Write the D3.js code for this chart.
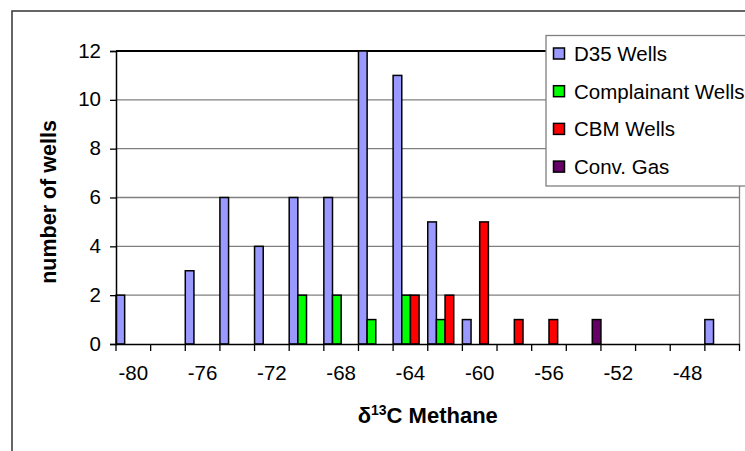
<!DOCTYPE html>
<html>
<head>
<meta charset="utf-8">
<script src="https://cdn.jsdelivr.net/npm/d3@7"></script>
<style>
    body { margin: 0; background: #fff; }
    svg { display: block; font-family: "Liberation Sans", Arial, sans-serif; }
</style>
</head>
<body>
<svg></svg>
<script>
let categories = [-80, -78, -76, -74, -72, -70, -68, -66, -64, -62, -60, -58, -56, -54, -52, -50, -48, -46]
let d35Wells = [2, 0, 3, 6, 4, 6, 6, 12, 11, 5, 1, 0, 0, 0, 0, 0, 0, 1]
let complainantWells = [0, 0, 0, 0, 0, 2, 2, 1, 2, 1, 0, 0, 0, 0, 0, 0, 0, 0]
let cbmWells = [0, 0, 0, 0, 0, 0, 0, 0, 2, 2, 5, 1, 1, 0, 0, 0, 0, 0]
let convGas = [0, 0, 0, 0, 0, 0, 0, 0, 0, 0, 0, 0, 0, 1, 0, 0, 0, 0]
let seriesNames = ['D35 Wells', 'Complainant Wells', 'CBM Wells', 'Conv. Gas']
let seriesColors = ['#9999FF', '#00FF00', '#FF0000', '#660066']
let yTicks = [0, 2, 4, 6, 8, 10, 12]
let xTickLabels = [-80, -76, -72, -68, -64, -60, -56, -52, -48]

let width = 745
let height = 451
let plotLeft = 116
let plotRight = 739.5
let plotTop = 51
let plotBottom = 344

let svg = d3.select('svg')
    .attr('width', width)
    .attr('height', height)

let allSeries = [d35Wells, complainantWells, cbmWells, convGas]

let xScale = d3.scaleBand()
    .domain(categories)
    .range([plotLeft, plotRight])
    .padding(0)

let x1Scale = d3.scaleBand()
    .domain(d3.range(seriesNames.length))
    .range([0, xScale.bandwidth()])
    .padding(0)

let yScale = d3.scaleLinear()
    .domain([0, 12])
    .range([plotBottom, plotTop])

// chart border (top-left corner visible only)
svg.append('path')
    .attr('d', 'M12,' + (height + 5) + ' L12,11 L' + (width + 5) + ',11')
    .attr('fill', 'none')
    .attr('stroke', '#333')
    .attr('stroke-width', 1.5)

// gridlines
svg.append('g')
    .selectAll('line')
    .data(yTicks.filter((d) => d > 0))
    .enter()
    .append('line')
    .attr('x1', plotLeft)
    .attr('x2', plotRight)
    .attr('y1', (d) => yScale(d))
    .attr('y2', (d) => yScale(d))
    .attr('stroke', (d) => d == 12 ? '#000' : '#808080')
    .attr('stroke-width', (d) => d == 12 ? 2 : 1.3)

// plot right border
svg.append('line')
    .attr('x1', plotRight).attr('x2', plotRight)
    .attr('y1', plotTop).attr('y2', plotBottom)
    .attr('stroke', '#808080')
    .attr('stroke-width', 1.3)

// bars
let barData = []
allSeries.forEach((values, s) => {
    values.forEach((v, i) => {
        if (v > 0) barData.push({cat: categories[i], s: s, v: v})
    })
})

svg.append('g')
    .selectAll('rect')
    .data(barData)
    .enter()
    .append('rect')
    .attr('x', (d) => xScale(d.cat) + x1Scale(d.s))
    .attr('y', (d) => yScale(d.v))
    .attr('width', x1Scale.bandwidth())
    .attr('height', (d) => yScale(0) - yScale(d.v))
    .attr('fill', (d) => seriesColors[d.s])
    .attr('stroke', '#000')
    .attr('stroke-width', 1.5)

// axes
let yAxis = d3.axisLeft(yScale)
    .tickValues(yTicks)
    .tickSize(6)
    .tickPadding(9)

let yg = svg.append('g')
    .attr('transform', 'translate(' + plotLeft + ',0)')
    .call(yAxis)
yg.select('.domain').attr('stroke', '#000').attr('stroke-width', 1.5)
yg.selectAll('.tick line').attr('stroke', '#000').attr('stroke-width', 1.3)
yg.selectAll('text')
    .attr('font-size', 20.5)
    .attr('font-family', '"Liberation Sans", Arial, sans-serif')
    .attr('fill', '#000')
    .attr('dy', '0.3em')

let xAxis = d3.axisBottom(xScale)
    .tickSize(0)
    .tickPadding(21)
    .tickFormat((d) => xTickLabels.includes(d) ? d : '')

let xg = svg.append('g')
    .attr('transform', 'translate(0,' + plotBottom + ')')
    .call(xAxis)
xg.select('.domain').attr('stroke', '#000').attr('stroke-width', 1.5)
xg.selectAll('text')
    .attr('font-size', 20.5)
    .attr('font-family', '"Liberation Sans", Arial, sans-serif')
    .attr('fill', '#000')

// category boundary ticks
xg.selectAll('.boundary')
    .data(categories.concat(['end']))
    .enter()
    .append('line')
    .attr('class', 'boundary')
    .attr('x1', (d) => d == 'end' ? plotRight : xScale(d))
    .attr('x2', (d) => d == 'end' ? plotRight : xScale(d))
    .attr('y1', 0)
    .attr('y2', 7)
    .attr('stroke', '#000')
    .attr('stroke-width', 1.3)

// axis titles
svg.append('text')
    .attr('transform', 'translate(56,' + 202 + ') rotate(-90)')
    .attr('text-anchor', 'middle')
    .attr('font-size', 21.5)
    .attr('font-weight', 'bold')
    .text('number of wells')

let xTitle = svg.append('text')
    .attr('x', (plotLeft + plotRight) / 2)
    .attr('y', 423)
    .attr('text-anchor', 'middle')
    .attr('font-size', 22)
    .attr('font-weight', 'bold')
xTitle.append('tspan').text('δ')
xTitle.append('tspan').attr('font-size', 14).attr('dy', -8).text('13')
xTitle.append('tspan').attr('dy', 8).text('C Methane')

// legend
let legend = svg.append('g')
legend.append('rect')
    .attr('x', 546)
    .attr('y', 35.5)
    .attr('width', 220)
    .attr('height', 150.5)
    .attr('fill', '#fff')
    .attr('stroke', '#808080')
    .attr('stroke-width', 1.3)

seriesNames.forEach((name, i) => {
    let cy = 53.5 + i * 37.7
    legend.append('rect')
        .attr('x', 553.5)
        .attr('y', cy - 5.5)
        .attr('width', 11)
        .attr('height', 11)
        .attr('fill', seriesColors[i])
        .attr('stroke', '#000')
        .attr('stroke-width', 1.5)
    legend.append('text')
        .attr('x', 574)
        .attr('y', cy + 7.3)
        .attr('font-size', 20.5)
        .text(name)
})
</script>
</body>
</html>
